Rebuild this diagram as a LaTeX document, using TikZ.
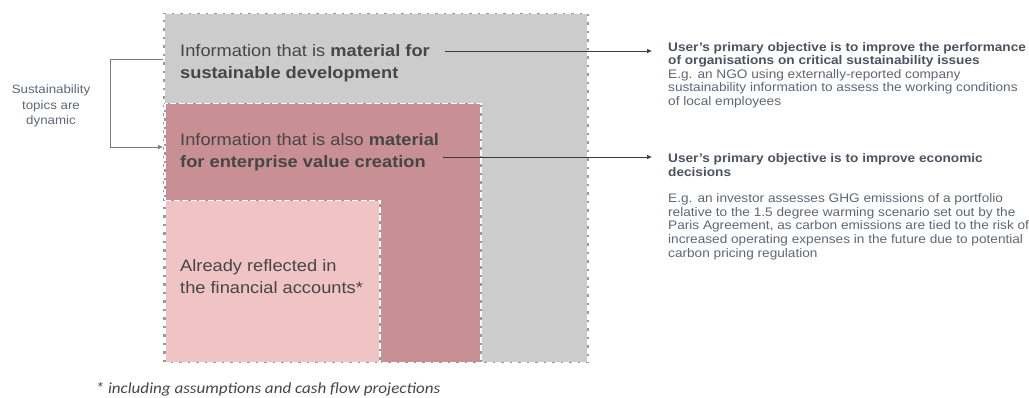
\documentclass[tikz,border=0pt]{standalone}
\usepackage{fontspec}
\setmainfont{Liberation Sans}[FakeStretch=1.1]
\newfontfamily\notefont{Carlito}[FakeStretch=1.1]
\usetikzlibrary{arrows.meta,calc}
\definecolor{boxgray}{HTML}{CCCCCC}
\definecolor{boxrose}{HTML}{C88F94}
\definecolor{boxpink}{HTML}{F0C4C4}
\definecolor{edgegray}{HTML}{999999}
\definecolor{boxtext}{HTML}{464646}
\definecolor{sidetext}{HTML}{5E6674}
\definecolor{sidebold}{HTML}{4C5260}
\definecolor{arrowcol}{HTML}{3C3C3C}
\tikzset{
  panel/.style={anchor=north west, inner sep=0pt, outer sep=0pt},
  panelborder/.style={draw=edgegray, line width=1.5pt},
  paneldash/.style={draw=white, line width=1.5pt, dash pattern=on 6pt off 2.5pt},
  boxlabel/.style={anchor=west, inner sep=0pt, align=left, text=boxtext,
    font=\fontsize{16.6}{22}\selectfont},
  sidelabel/.style={anchor=west, inner xsep=16pt, inner ysep=0pt, align=left, text=sidetext,
    font=\fontsize{12.4}{13.6}\selectfont},
  linkarrow/.style={draw=arrowcol, line width=0.6pt, -{Latex[length=5pt,width=4.5pt]}},
}
\begin{document}
\begin{tikzpicture}[x=1pt,y=-1pt]
\useasboundingbox (0,0) rectangle (1029,397);
% boxes
\node[panel, fill=boxgray, minimum width=424pt, minimum height=349pt] (gray) at (164,13.5) {};
\draw[panelborder] (gray.north west) rectangle (gray.south east);
\draw[paneldash] (gray.north west) rectangle (gray.south east);
\node[panel, fill=boxrose, minimum width=316pt, minimum height=259pt] (rose) at (165,103.5) {};
\draw[panelborder] (rose.north west) rectangle (rose.south east);
\draw[paneldash] (rose.north west) rectangle (rose.south east);
\node[panel, fill=boxpink, minimum width=215pt, minimum height=162pt] (pink) at (165,200.5) {};
\draw[panelborder] (pink.north west) rectangle (pink.south east);
\draw[paneldash] (pink.north west) rectangle (pink.south east);
% box labels
\node[boxlabel] (l1) at (180,63) {Information that is \textbf{material for}\\\textbf{sustainable development}};
\node[boxlabel] (l2) at (180,152) {Information that is also \textbf{material}\\\textbf{for enterprise value creation}};
\node[boxlabel] (l3) at (180,276.5) {Already reflected in\\the financial accounts*};
% side note
\node[align=center, inner sep=0pt, text=sidetext, font=\fontsize{12.1}{15.5}\selectfont] (dyn) at (51,106) {Sustainability\\topics are\\dynamic};
\coordinate (b1) at (163,59);
\coordinate (b2) at (163,147);
\draw[linkarrow, draw=edgegray!80!black] (b1) -- ++(-53,0) |- (b2);
% right texts
\node[sidelabel] (r1) at (652,75) {\textcolor{sidebold}{\textbf{User’s primary objective is to improve the performance}}\\
\textcolor{sidebold}{\textbf{of organisations on critical sustainability issues}}\\
E.g. an NGO using externally-reported company\\
sustainability information to assess the working conditions\\
of local employees};
\node[sidelabel] (r2) at (652,206.5) {\textcolor{sidebold}{\textbf{User’s primary objective is to improve economic}}\\
\textcolor{sidebold}{\textbf{decisions}}\\[13pt]
E.g. an investor assesses GHG emissions of a portfolio\\
relative to the 1.5 degree warming scenario set out by the\\
Paris Agreement, as carbon emissions are tied to the risk of\\
increased operating expenses in the future due to potential\\
carbon pricing regulation};
\coordinate (a1) at (445,51);
\coordinate (a2) at (443,157);
\draw[linkarrow] (a1) -- (a1 -| r1.west);
\draw[linkarrow] (a2) -- (a2 -| r2.west);
% footnote
\node[inner sep=0pt, text=boxtext, font=\notefont\itshape\fontsize{15.5}{18}\selectfont] (fn) at (268,389) {* including assumptions and cash flow projections};
\end{tikzpicture}
\end{document}
